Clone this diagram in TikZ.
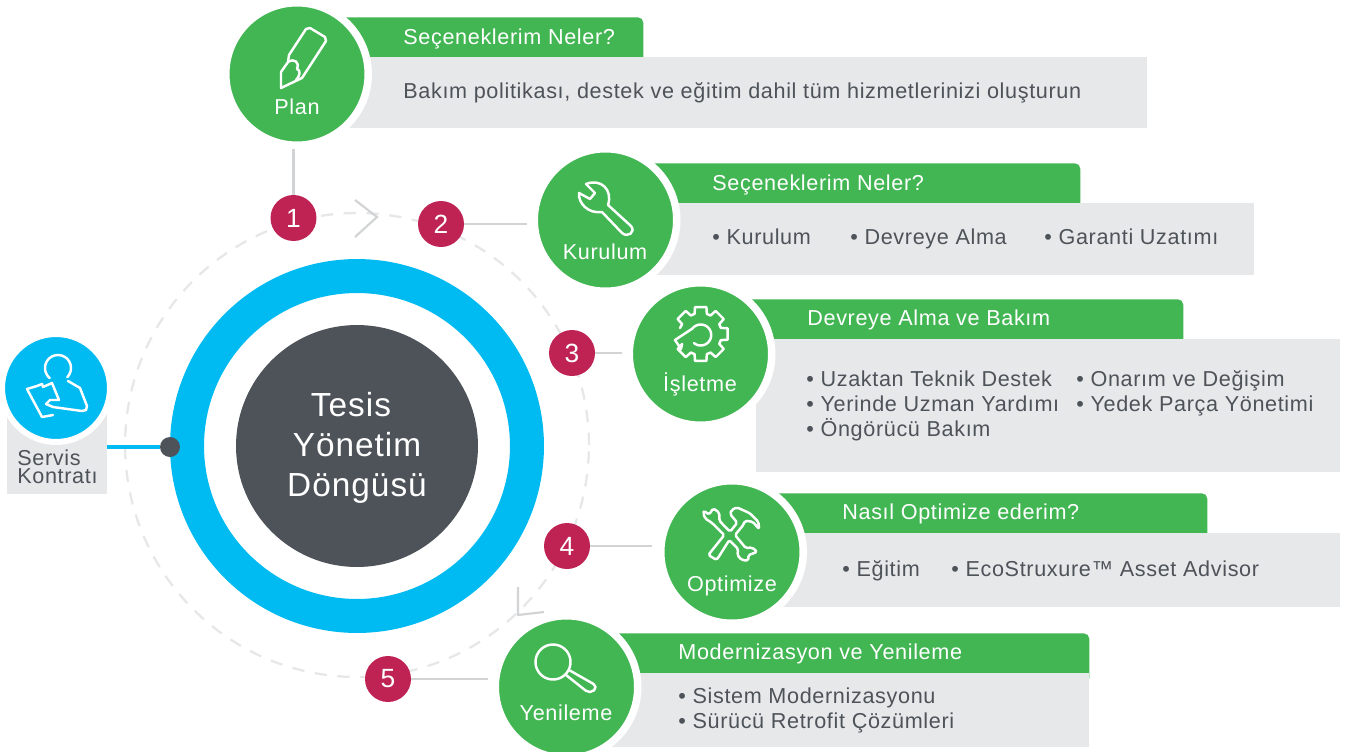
\documentclass[tikz,border=0pt]{standalone}
\usepackage{fontspec}
\setmainfont[LetterSpace=3]{Liberation Sans}
\usepackage{xcolor}
\usetikzlibrary{positioning,calc}
\definecolor{leafgreen}{HTML}{42B653}
\definecolor{cyclecyan}{HTML}{00BAF2}
\definecolor{slatedark}{HTML}{4D5359}
\definecolor{crimson}{HTML}{BF2354}
\definecolor{panelgray}{HTML}{E7E8EA}
\definecolor{linegray}{HTML}{D1D3D4}
\definecolor{dashgray}{HTML}{E6E7E8}

\begin{document}
\begin{tikzpicture}[
	x=0.02cm, y=-0.02cm,
	stagecircle/.style={
		circle,
		draw=white,
		line width=.15cm,
		fill=leafgreen,
		minimum size=2.85cm,
		inner sep=0pt
	},
	stagename/.style={
		text=white,
		inner sep=0pt,
		text height=1.6ex,
		text depth=0pt,
		font=\fontsize{12.3}{14}\selectfont
	},
	numbadge/.style={
		circle,
		fill=crimson,
		text=white,
		minimum size=.92cm,
		inner sep=0pt,
		font=\fontsize{15}{16}\selectfont
	},
	headbar/.style={
		fill=leafgreen,
		anchor=north west,
		rounded corners=3pt,
		minimum height=1cm,
		inner sep=0pt
	},
	bodypanel/.style={
		fill=panelgray,
		anchor=north west,
		inner sep=0pt
	},
	headtext/.style={
		anchor=west,
		text=white,
		inner sep=0pt,
		text height=1.6ex,
		text depth=0pt,
		font=\fontsize{12.3}{14}\selectfont
	},
	bodytext/.style={
		anchor=west,
		text=slatedark,
		inner sep=0pt,
		text height=1.6ex,
		text depth=0pt,
		font=\fontsize{12.3}{14}\selectfont
	},
	connector/.style={draw=linegray, line width=1.2pt},
	chevron/.style={draw=linegray, line width=1.2pt},
	iconline/.style={draw=white, line width=1.4pt, line join=round, line cap=round}
	]
	\useasboundingbox (0,0) rectangle (1352,751);

	% cycle
	\node[circle, draw=dashgray, line width=1.3pt, dash pattern=on 7pt off 6pt, minimum size=9.28cm] (track) at (357,445) {};
	\node[circle, draw=cyclecyan, fill=white, line width=.68cm, minimum size=6.8cm] (ring) at (357,446) {};
	\node[circle, fill=slatedark, minimum size=4.84cm, inner sep=0pt] (core) at (357,446) {};
	\node[text=white, inner sep=0pt, align=center,
		font=\fontsize{19}{22.8}\selectfont] (coretext) at (357,448) {Tesis\hspace*{.24cm}\\Yönetim\\Döngüsü};
	\draw[chevron] (355,200) -- (377,217) -- (355,237);
	\draw[chevron] (518,587) -- (518,615) -- (544,612);

	% service contract
	\node[bodypanel, minimum width=2cm, minimum height=1.72cm] (svcpanel) at (7,408) {};
	\node[circle, draw=white, fill=cyclecyan, line width=.12cm, minimum size=2.16cm, inner sep=0pt] (svccircle) at (56,388) {};
	\node[anchor=north west, text=slatedark, inner sep=0pt, align=left,
		font=\fontsize{12.3}{10.8}\selectfont] (svctext) at (17,449) {Servis\\Kontratı};
	\node[circle, fill=slatedark, minimum size=.4cm, inner sep=0pt] (svcdot) at (170,447) {};
	\coordinate (svcedge) at (107,447);
	\draw[draw=cyclecyan, line width=2.8pt] (svcedge) -- (svcdot);
	\draw[iconline] plot[domain=-230:45, samples=30] ({58+13*cos(\x)},{368+13*sin(\x)});
	\draw[iconline] (68,381) -- (80,388) -- (87,406) -- (86,410) -- (82,411) -- (53,407) -- (46,404) -- (50,400) -- (59,400) -- (52,383) -- (43,387) -- (42,384) -- (37,386) -- (27,389) -- (42,417) -- (53,415);

	% panels
	\node[headbar, minimum width=6.16cm] (planhead) at (335,17) {};
	\node[bodypanel, minimum width=16.24cm, minimum height=1.42cm] (planbody) at (335,57) {};
	\node[headbar, minimum width=8.8cm] (kurhead) at (640,163) {};
	\node[bodypanel, minimum width=12.28cm, minimum height=1.44cm] (kurbody) at (640,203) {};
	\node[headbar, minimum width=8.96cm] (islhead) at (735,299) {};
	\node[bodypanel, minimum width=11.68cm, minimum height=2.66cm] (islbody) at (756,339) {};
	\node[headbar, minimum width=8.84cm] (opthead) at (765,493) {};
	\node[bodypanel, minimum width=11.5cm, minimum height=1.48cm] (optbody) at (765,533) {};
	\node[headbar, minimum width=9.78cm] (yenhead) at (600,633) {};
	\node[bodypanel, minimum width=9.78cm, minimum height=1.48cm] (yenbody) at (600,673) {};

	% stages
	\node[stagecircle] (plan) at (297,74) {};
	\node[stagecircle] (kurulum) at (605.5,220) {};
	\node[stagecircle] (isletme) at (700.5,354) {};
	\node[stagecircle] (optimize) at (732,552) {};
	\node[stagecircle] (yenileme) at (566.5,687) {};

	\node[stagename] (planlbl) at (297,107) {Plan};
	\node[stagename] (kurlbl) at (605,252) {Kurulum};
	\node[stagename] (isllbl) at (700,384) {İşletme};
	\node[stagename] (optlbl) at (732,584) {Optimize};
	\node[stagename] (yenlbl) at (566,713) {Yenileme};

	% numbers
	\node[numbadge] (n1) at (293.5,218) {1};
	\node[numbadge] (n2) at (441,224) {2};
	\node[numbadge] (n3) at (572,353) {3};
	\node[numbadge] (n4) at (567,546) {4};
	\node[numbadge] (n5) at (388,679) {5};

	\coordinate (end1) at (293.5,149);
	\coordinate (end2) at (527,224);
	\coordinate (end3) at (622,353);
	\coordinate (end4) at (652,546);
	\coordinate (end5) at (488,679);
	\draw[connector] (n1) -- (end1);
	\draw[connector] (n2) -- (end2);
	\draw[connector] (n3) -- (end3);
	\draw[connector] (n4) -- (end4);
	\draw[connector] (n5) -- (end5);

	% texts
	\node[headtext] (plantitle) at (403,37) {Seçeneklerim Neler?};
	\node[bodytext] (planitem) at (403,91) {Bakım politikası, destek ve eğitim dahil tüm hizmetlerinizi oluşturun};

	\node[headtext] (kurtitle) at (712,183) {Seçeneklerim Neler?};
	\node[bodytext] (kuritema) at (712,237) {• Kurulum};
	\node[bodytext] (kuritemb) at (850,237) {• Devreye Alma};
	\node[bodytext] (kuritemc) at (1044,237) {• Garanti Uzatımı};

	\node[headtext] (isltitle) at (807,318) {Devreye Alma ve Bakım};
	\node[bodytext] (islitema) at (806,379) {• Uzaktan Teknik Destek};
	\node[bodytext] (islitemb) at (806,404) {• Yerinde Uzman Yardımı};
	\node[bodytext] (islitemc) at (806,429) {• Öngörücü Bakım};
	\node[bodytext] (islitemd) at (1076,379) {• Onarım ve Değişim};
	\node[bodytext] (isliteme) at (1076,404) {• Yedek Parça Yönetimi};

	\node[headtext] (opttitle) at (842,512) {Nasıl Optimize ederim?};
	\node[bodytext] (optitema) at (842,569) {• Eğitim};
	\node[bodytext] (optitemb) at (951,569) {• EcoStruxure™ Asset Advisor};

	\node[headtext] (yentitle) at (678,652) {Modernizasyon ve Yenileme};
	\node[bodytext] (yenitema) at (678,696) {• Sistem Modernizasyonu};
	\node[bodytext] (yenitemb) at (678,721) {• Sürücü Retrofit Çözümleri};

	% icons
	\draw[iconline] (289,55) -- (306,29) -- (310,28) -- (325,37) -- (326,41) -- (302,78) -- (281,88) -- (281,72) -- (288,62) -- (289,55);
	\draw[iconline] (288,62) .. controls (294,58) and (300,62) .. (297,69) .. controls (301,70) and (300,76) .. (296,80);

	\draw[iconline] (579,193) .. controls (578,203) and (588,214) .. (602,212) -- (622,233) .. controls (628,238) and (636,232) .. (631,226) -- (608,205) .. controls (613,190) and (601,178) .. (586,184) -- (595,193) -- (590,199) -- cycle;

	\draw[iconline] plot[domain=130:-142, samples=30] ({700.7+10.5*cos(\x)},{335+10.5*sin(\x)}) -- (675,340) -- (681,349)
		\foreach \t in {135,90,45,0,-45,-90,-135}{
		-- ($(700.7,334)+(\t+17:21)$) -- ($(700.7,334)+(\t+12:27.5)$) -- ($(700.7,334)+(\t-12:27.5)$) -- ($(700.7,334)+(\t-17:21)$)
		} -- (680,328);

	\draw[iconline, rounded corners=1pt] (704,510.7) -- (709,514.7) -- (713.3,508.3) -- (719.3,512.7) -- (719.3,520.7) -- (730,531.7) -- (737.3,522.7) -- (730,514) -- (731.7,510) -- (736.7,507.3) -- (750,513.3) -- (758.3,521.7) -- (759.3,529.3) -- (752.7,521.7) -- (745,520.7) -- (743.3,525) -- (735,535) -- (746,548.3) -- (751.7,547.3) -- (757.3,551.7) -- (751.7,554) -- (748.3,555) -- (748.3,560.7) -- (741.7,560) -- (737.3,555) -- (738.3,549.3) -- (729.3,540) -- (716.7,560) -- (708.3,555) -- (724.3,535) -- (711.7,522.7) -- (705,518.3) -- (703.3,513.3) -- cycle;

	\draw[iconline] plot[domain=0:360, samples=40] ({553+17.5*cos(\x)},{662+17.5*sin(\x)});
	\draw[iconline, rounded corners=3pt] (569,670) -- (598,686.5) -- (590,694) -- (566,675);
\end{tikzpicture}
\end{document}
